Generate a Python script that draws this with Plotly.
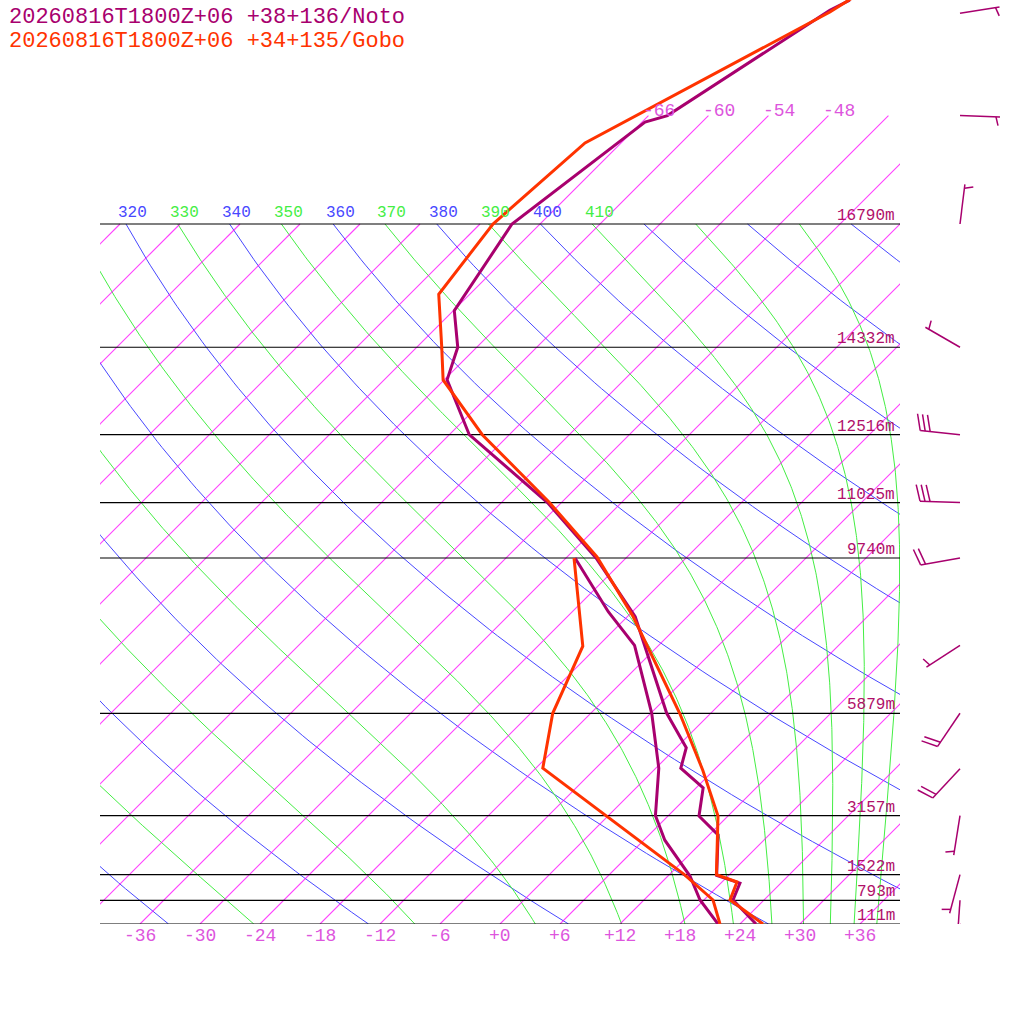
import numpy as np
import plotly.graph_objects as go

# ---------------- data ----------------
noto_name = "20260816T1800Z+06 +38+136/Noto"
gobo_name = "20260816T1800Z+06 +34+135/Gobo"

noto_t_p = [1000, 924, 874, 852, 746, 701, 639, 599, 560, 500, 364, 300, 250, 200, 167, 150, 133, 100, 71.5, 70.0, 49.5, 47.9]
noto_t   = [25.6, 20.9, 19.9, 16.8, 12.9, 9.1, 6.7, 2.5, 1.0, -4.4, -17.2, -27.0, -37.4, -52.0, -59.7, -61.9, -65.9, -68.8, -65.7, -64.1, -58.4, -57.4]
noto_td_p = [1000, 924, 854, 759, 700, 643, 599, 500, 400, 358, 300]
noto_td   = [21.8, 17.6, 14.2, 8.1, 4.7, 2.3, 0.3, -5.9, -14.4, -20.4, -29.1]

gobo_t_p = [1000, 924, 871, 850, 701, 603, 500, 364, 299, 250, 200, 167, 150, 126, 100, 76.6, 49.8, 47.6]
gobo_t   = [26.3, 20.6, 19.5, 16.7, 11.0, 4.9, -3.1, -17.4, -27.0, -37.2, -50.7, -60.1, -63.5, -69.1, -70.7, -69.6, -58.2, -57.4]
gobo_td_p = [1000, 924, 850, 599, 500, 401, 300]
gobo_td   = [22.0, 18.9, 13.5, -11.3, -15.8, -19.5, -29.2]

levels = [100, 150, 200, 250, 300, 500, 700, 850, 925, 1000]
heights = ["16790m", "14332m", "12516m", "11025m", "9740m", "5879m", "3157m", "1522m", "793m", "111m"]

wind_p   = [50, 70, 100, 150, 200, 250, 300, 400, 500, 600, 700, 850, 925, 1000]
wind_dir = [81, 92, 7, 300, 276, 272, 260, 237, 214, 223, 189, 195, 184, 140]
wind_spd = [5, 5, 5, 5, 30, 30, 20, 5, 20, 20, 5, 5, 10, 5]

isotherms = list(range(-120, 61, 6))
dry_thetas = list(range(200, 461, 20))
moist_thetas = list(range(190, 451, 20))
theta_labels = list(range(310, 411, 10))
bottom_ticks = list(range(-36, 37, 6))
top_iso_labels = [-66, -60, -54, -48]

# ---------------- helpers ----------------
SKEW = 70.0
C_NOTO = "#a8006e"
C_GOBO = "#ff3300"
C_ISO = "magenta"
C_DRY = "rgb(72,72,255)"
C_MOIST = "rgb(68,238,68)"
FONT = "Liberation Mono"

def X(T, p):
    return np.asarray(T, float) + SKEW * np.log10(1000.0 / np.asarray(p, float))

fig = go.Figure()

def line(x, y, color, w, xa="x", ya="y", op=1.0):
    fig.add_trace(go.Scatter(x=list(x), y=list(y), mode="lines", line=dict(color=color, width=w),
                             opacity=op, hoverinfo="skip", showlegend=False, xaxis=xa, yaxis=ya))

def multi(curves, color, w, op=1.0):
    xs, ys = [], []
    for cx, cy in curves:
        xs += [float(v) for v in cx] + [None]
        ys += [float(v) for v in cy] + [None]
    line(xs, ys, color, w, op=op)

# dry adiabats
pp = np.logspace(2, 3, 120)
dry = []
for th in dry_thetas:
    T = th * (pp / 1000.0) ** 0.2857 - 273.15
    dry.append((X(T, pp), pp))
multi(dry, C_DRY, 1)

# moist adiabats (pseudo-adiabats) integrated from 100 hPa downward
def esat(Tc):
    return 6.112 * np.exp(17.67 * Tc / (Tc + 243.5))

def moist_curve(th):
    Rd, cp, L, eps = 287.04, 1005.7, 2.501e6, 0.622
    lp = np.linspace(np.log(100.0), np.log(1000.0), 300)
    T = th * (0.1) ** 0.2857
    out = [T]
    def f(Tk, lnp):
        p = np.exp(lnp)
        es = esat(Tk - 273.15)
        rs = eps * es / max(p - es, 1e-3)
        return (Rd * Tk + L * rs) / (cp + L * L * rs * eps / (Rd * Tk * Tk))
    for i in range(1, len(lp)):
        dl = lp[i] - lp[i - 1]
        k1 = f(T, lp[i - 1]); k2 = f(T + dl * k1 / 2, lp[i - 1] + dl / 2)
        k3 = f(T + dl * k2 / 2, lp[i - 1] + dl / 2); k4 = f(T + dl * k3, lp[i])
        T = T + dl * (k1 + 2 * k2 + 2 * k3 + k4) / 6
        out.append(T)
    return np.exp(lp), np.array(out) - 273.15

moist = []
for th in moist_thetas:
    p, T = moist_curve(th)
    moist.append((X(T, p), p))
multi(moist, C_MOIST, 1)

# isotherms
iso = []
for T in isotherms:
    ptop = 70.0 if T >= -66 else 100.0
    p = np.logspace(3, np.log10(ptop), 12)
    iso.append((X(np.full_like(p, T), p), p))
multi(iso, C_ISO, 1.1, op=0.75)

# pressure lines
multi([([-40, 40], [p, p]) for p in levels], "#000000", 1.2)

# soundings
line(X(noto_td, noto_td_p), noto_td_p, C_NOTO, 3)
line(X(gobo_td, gobo_td_p), gobo_td_p, C_GOBO, 3)
line(X(noto_t, noto_t_p), noto_t_p, C_NOTO, 3)
line(X(gobo_t, gobo_t_p), gobo_t_p, C_GOBO, 3)

# wind barbs (pixel space on x2/y2)
bxs, bys = [], []
for p, d, s in zip(wind_p, wind_dir, wind_spd):
    y0 = 924 - 700 * np.log10(1000.0 / p)
    x0 = 960.0
    a = np.radians(d)
    ux, uy = np.sin(a), -np.cos(a)
    tx, ty = x0 + 40 * ux, y0 + 40 * uy
    bxs += [x0, tx, None]; bys += [y0, ty, None]
    b = np.radians(d + 75)
    bx, by = np.sin(b), -np.cos(b)
    full, half = s // 10, (s % 10) // 5
    pos = 0.0
    for _ in range(full):
        sx, sy = tx - pos * ux, ty - pos * uy
        bxs += [sx, sx + 17 * bx, None]; bys += [sy, sy + 17 * by, None]
        pos += 5
    if half:
        if full == 0:
            pos = 4
        sx, sy = tx - pos * ux, ty - pos * uy
        bxs += [sx, sx + 9 * bx, None]; bys += [sy, sy + 9 * by, None]
line(bxs, bys, C_NOTO, 1.5, "x2", "y2")

ann = []
for p in levels:
    ann.append(dict(x=-41.3, y=np.log10(p), xref="x", yref="y", text=str(p), showarrow=False,
                    xanchor="right", yanchor="middle", yshift=8,
                    font=dict(family=FONT, size=25, color="#000000")))
for p, h in zip(levels, heights):
    ann.append(dict(x=39.7, y=np.log10(p), xref="x", yref="y", text=h, showarrow=False,
                    xanchor="right", yanchor="middle", yshift=8,
                    font=dict(family=FONT, size=16, color="#b0106a")))
for t in bottom_ticks:
    txt = ("+%d" % t) if t >= 0 else str(t)
    ann.append(dict(x=t, y=3, xref="x", yref="y", text=txt, showarrow=False,
                    xanchor="center", yanchor="middle", yshift=-12,
                    font=dict(family=FONT, size=18, color="#dd55dd")))
for t in top_iso_labels:
    ann.append(dict(x=float(X(t, 70.0)) + 1.1, y=np.log10(70.0), xref="x", yref="y",
                    text=str(t), showarrow=False, xanchor="center", yanchor="middle", yshift=5,
                    font=dict(family=FONT, size=18, color="#dd55dd")))
for th in theta_labels:
    T = th * 0.1 ** 0.2857 - 273.15
    col = C_DRY if th % 20 == 0 else C_MOIST
    ann.append(dict(x=float(X(T, 100.0)) + 0.7, y=2, xref="x", yref="y", text=str(th),
                    showarrow=False, xanchor="center", yanchor="middle", yshift=11,
                    font=dict(family=FONT, size=16, color=col)))
for i, (txt, col) in enumerate([(noto_name, C_NOTO), (gobo_name, C_GOBO)]):
    ann.append(dict(x=0, xshift=-93, y=1 - (17 + 24 * i) / 924.0, xref="paper", yref="paper",
                    text=txt, showarrow=False, xanchor="left", yanchor="middle",
                    font=dict(family=FONT, size=22, color=col)))

fig.update_layout(
    width=1024, height=1024, margin=dict(l=100, r=0, t=0, b=100),
    paper_bgcolor="white", plot_bgcolor="rgba(0,0,0,0)", showlegend=False,
    xaxis=dict(range=[-40, 40], domain=[0, 800 / 924], visible=False, fixedrange=True),
    yaxis=dict(type="log", range=[3, 3 - 924 / 700], visible=False),
    xaxis2=dict(range=[900, 1024], domain=[800 / 924, 1], visible=False, anchor="y2"),
    yaxis2=dict(range=[924, 0], domain=[0, 1], visible=False, anchor="x2", overlaying="y"),
    annotations=ann,
)
fig.write_html("out.html", config={"displayModeBar": False},
               post_script="document.body.style.margin='0px';")
